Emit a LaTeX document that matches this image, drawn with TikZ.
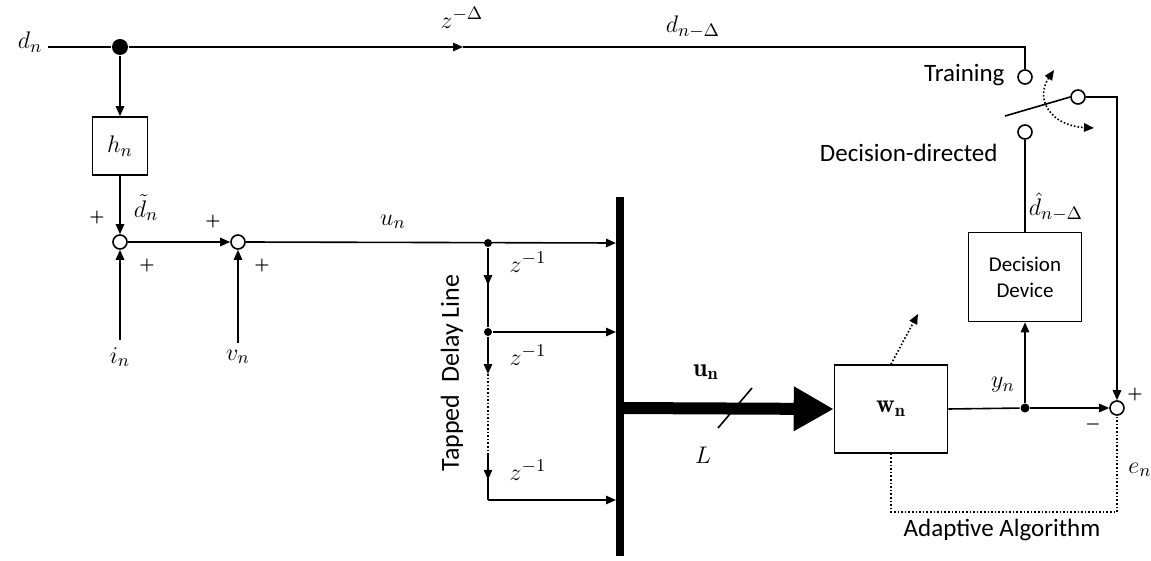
\documentclass[tikz,border=0pt]{standalone}
\usepackage{amsmath,amssymb}
\usepackage{fontspec}
\setsansfont{Carlito}
\usetikzlibrary{positioning,arrows.meta,calc,decorations.markings}

\begin{document}
\begin{tikzpicture}[x=0.5pt,y=-0.5pt,line width=0.8pt,font=\fontsize{13}{15}\selectfont,
  >={Triangle[length=5pt,width=4.2pt]},
  port/.style={circle,draw,fill=white,inner sep=0pt,minimum size=7pt},
  jdot/.style={circle,fill,inner sep=0pt,minimum size=#1},
  blk/.style={draw,inner sep=0pt,minimum width=#1},
  txt/.style={font=\sffamily\fontsize{12.5}{15}\selectfont},
  midarr/.style={postaction={decorate},
    decoration={markings,mark=at position #1 with {\arrow{>}}}}]
  \useasboundingbox (0,0) rectangle (1151,561);

  % input, channel and noise
  \node (dn) at (30,42) {$d_n$};
  \coordinate (din) at (48,47);
  \node[jdot=8pt] (jtop) at (120,47) {};
  \node[blk=27.5pt,minimum height=29pt] (hbox) at (120,146) {$h_n$};
  \node[port] (sum1) at (120,242) {};
  \node[port] (sum2) at (238,242) {};
  \node (iin) at (120,357) {$i_n$};
  \node (vin) at (238,357) {$v_n$};
  \draw (din) -- (jtop);
  \draw[->] (jtop) -- (hbox.north);
  \draw[->] (hbox.south) -- (sum1.north);
  \draw[->] (iin.north) -- (sum1.south);
  \draw[->] (vin.north) -- (sum2.south);
  \draw[->] (sum1.east) -- (sum2.west);
  \node at (146,208) {$\tilde{d}_n$};
  \foreach \x/\y/\s in {97/218/+, 147/266/+, 213/222/+, 262/266/+} {
    \node[font=\footnotesize] at (\x,\y) {$\boldsymbol{\s}$};
  }

  % delayed reference
  \coordinate (zd) at (463,47);
  \node[port] (cT) at (1025,77) {};
  \node[port] (cP) at (1078,97) {};
  \node[port] (cD) at (1025,132) {};
  \draw[->] (jtop) -- (zd);
  \draw (zd) -| (cT.north);
  \node at (462,18) {$z^{-\Delta}$};
  \node at (693,27) {$d_{n-\Delta}$};
  \node[txt,anchor=east] at (1012,75) {Training};
  \node[txt,anchor=east] at (1005,153) {Decision-directed};
  \coordinate (blade) at (1005,116);
  \draw (blade) -- (cP.west);
  \draw[densely dotted,{Triangle[length=5pt,width=4.2pt]}-{Triangle[length=5pt,width=4.2pt]}]
    (1054,70) .. controls (1034,100) and (1052,126) .. (1094,128);

  % tapped delay line
  \node[jdot=4pt] (t1) at (488,243) {};
  \node[jdot=4pt] (t2) at (488,332) {};
  \coordinate (t3) at (488,500);
  \coordinate (dl1) at (488,374);
  \coordinate (dl2) at (488,455);
  \coordinate (bustop) at (620,197);
  \coordinate (busbot) at (620,556);
  \coordinate (busmid) at (620,408);
  \foreach \n/\y in {1/243,2/332,3/500} {
    \coordinate (b\n) at (616,\y);
  }
  \draw[->] (sum2.east) -- (b1);
  \node at (393,222) {$u_n$};
  \draw[->] (t2) -- (b2);
  \draw[->] (t3) -- (b3);
  \draw[midarr=0.47] (t1) -- (t2);
  \draw[->] (t2) -- (dl1);
  \draw[densely dotted] (dl1) -- (dl2);
  \draw[midarr=0.55] (dl2) -- (t3);
  \foreach \y in {262,355,470} {
    \node at (528,\y) {$z^{-1}$};
  }
  \node[txt,font=\sffamily\fontsize{13}{15}\selectfont,rotate=90] at (452,373) {Tapped\ \ Delay Line};
  \draw[line width=4pt] (bustop) -- (busbot);

  % adaptive filter
  \node[blk=56.5pt,minimum height=44pt] (wbox) at (891,409) {$\mathbf{w}_{\mathbf{n}}$};
  \draw[line width=6pt,-{Triangle[length=20pt,width=21pt]}] (busmid) -- (wbox.west);
  \draw (718,428) -- (752,388);
  \node at (706,372) {$\mathbf{u}_{\mathbf{n}}$};
  \node at (703,455) {$L$};
  \draw[densely dotted,->] (wbox.north) -- (918,314);

  % decision and error
  \node[blk=56.5pt,minimum height=44.5pt,txt,font=\sffamily\fontsize{10.5}{13}\selectfont,
    align=center] (dec) at (1025,277) {Decision\\Device};
  \node[port] (sumE) at (1117,408) {};
  \node[jdot=4.5pt] (jy) at (1025,408) {};
  \draw (wbox.east) -- (jy);
  \draw[->] (jy) -- (sumE.west);
  \draw[->] (jy) -- (dec.south);
  \draw (cD.south) -- (dec.north);
  \draw[->] (cP.east) -| (sumE.north);
  \node at (1003,385) {$y_n$};
  \node at (1056,207) {$\hat{d}_{n-\Delta}$};
  \node[font=\footnotesize] at (1135,394) {$\boldsymbol{+}$};
  \node[font=\footnotesize] at (1093,424) {$\boldsymbol{-}$};
  \node at (1140,470) {$e_n$};
  \draw[densely dotted] (wbox.south) -- (891,512) -| (sumE.south);
  \node[txt] at (1002,530) {Adaptive Algorithm};
\end{tikzpicture}
\end{document}
